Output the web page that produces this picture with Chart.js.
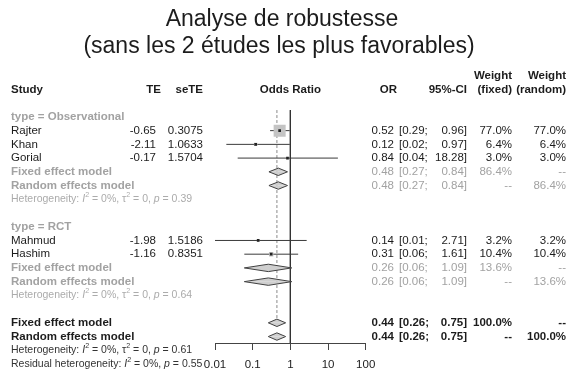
<!DOCTYPE html>
<html><head><meta charset="utf-8">
<script src="https://cdn.jsdelivr.net/npm/chart.js@4/dist/chart.umd.min.js"></script>
<style>html,body{margin:0;padding:0;background:#fff;}canvas{display:block;}</style>
</head><body>
<canvas id="c" width="580" height="377"></canvas>
<script>
// ---------- data ----------
const TITLE_LINES = ['Analyse de robustesse', '(sans les 2 études les plus favorables)'];
const GROUP_LABELS = ['type = Observational', 'type = RCT'];
const STUDIES = ['Rajter', 'Khan', 'Gorial', 'Mahmud', 'Hashim'];
const STUDY_GROUP = [0, 0, 0, 1, 1];
const TE = [-0.65, -2.11, -0.17, -1.98, -1.16];
const SE_TE = [0.3075, 1.0633, 1.5704, 1.5186, 0.8351];
const OR = [0.52, 0.12, 0.84, 0.14, 0.31];
const OR_LO = [0.29, 0.02, 0.04, 0.01, 0.06];
const OR_HI = [0.96, 0.97, 18.28, 2.71, 1.61];
const W_FIXED = [77.0, 6.4, 3.0, 3.2, 10.4];
const W_RANDOM = [77.0, 6.4, 3.0, 3.2, 10.4];
const SUB_FIXED_OR = [0.48, 0.26];
const SUB_FIXED_LO = [0.27, 0.06];
const SUB_FIXED_HI = [0.84, 1.09];
const SUB_FIXED_W = [86.4, 13.6];
const SUB_RANDOM_OR = [0.48, 0.26];
const SUB_RANDOM_LO = [0.27, 0.06];
const SUB_RANDOM_HI = [0.84, 1.09];
const SUB_RANDOM_W = [86.4, 13.6];
const SUB_I2 = ['0%', '0%'];
const SUB_TAU2 = ['0', '0'];
const SUB_P = ['0.39', '0.64'];
const ALL_FIXED = [0.44, 0.26, 0.75];   // OR, lower, upper
const ALL_RANDOM = [0.44, 0.26, 0.75];
const ALL_I2 = '0%', ALL_TAU2 = '0', ALL_P = '0.61';
const RESID_I2 = '0%', RESID_P = '0.55';
const TICKS = [0.01, 0.1, 1, 10, 100];
const TICK_LABELS = ['0.01', '0.1', '1', '10', '100'];

// ---------- row layout ----------
const FONT = '"Liberation Sans", Arial, sans-serif';
const rows = [];
let r = 0;
GROUP_LABELS.forEach((g, gi) => {
  rows.push({kind: 'group', row: r++, gi});
  STUDIES.forEach((s, si) => { if (STUDY_GROUP[si] === gi) rows.push({kind: 'study', row: r++, si}); });
  rows.push({kind: 'subfixed', row: r++, gi});
  rows.push({kind: 'subrandom', row: r++, gi});
  rows.push({kind: 'subhet', row: r++, gi});
  r++;
});
rows.push({kind: 'allfixed', row: r++});
rows.push({kind: 'allrandom', row: r++});
rows.push({kind: 'allhet', row: r++});
rows.push({kind: 'resid', row: r++});

const DARK = '#1c1c1c', GRAY = '#a2a2a2', LGRAY = '#ababab';
const LINE = '#3a3a3a';
const DIAMOND_FILL = '#cfcfcf';
const SQUARE_FILL = '#c4c4c4';
const DH = 0.27;
const wMax = Math.max(...W_FIXED);

const datasets = [];
const studyRows = rows.filter(o => o.kind === 'study');
studyRows.forEach(o => {
  const i = o.si;
  datasets.push({type: 'line', data: [{x: OR_LO[i], y: o.row}, {x: OR_HI[i], y: o.row}],
    borderColor: LINE, borderWidth: 1, pointRadius: 0, fill: false, order: 3});
});
datasets.push({type: 'scatter', data: studyRows.map(o => ({x: OR[o.si], y: o.row})),
  pointStyle: 'rect', backgroundColor: SQUARE_FILL, borderWidth: 0,
  pointRadius: studyRows.map(o => 8.5 * Math.sqrt(W_FIXED[o.si] / wMax)), order: 2});
datasets.push({type: 'scatter', data: studyRows.map(o => ({x: OR[o.si], y: o.row})),
  pointStyle: 'rect', backgroundColor: '#222', borderWidth: 0, pointRadius: 1.9, order: 1});

function diamond(est, lo, hi, row) {
  [-DH, DH].forEach(d => {
    datasets.push({type: 'line', data: [{x: lo, y: row}, {x: est, y: row + d}, {x: hi, y: row}],
      borderColor: '#404040', borderWidth: 1, backgroundColor: DIAMOND_FILL,
      fill: {value: row}, pointRadius: 0, tension: 0, order: 4});
  });
}
rows.forEach(o => {
  if (o.kind === 'subfixed') diamond(SUB_FIXED_OR[o.gi], SUB_FIXED_LO[o.gi], SUB_FIXED_HI[o.gi], o.row);
  if (o.kind === 'subrandom') diamond(SUB_RANDOM_OR[o.gi], SUB_RANDOM_LO[o.gi], SUB_RANDOM_HI[o.gi], o.row);
  if (o.kind === 'allfixed') diamond(ALL_FIXED[0], ALL_FIXED[1], ALL_FIXED[2], o.row);
  if (o.kind === 'allrandom') diamond(ALL_RANDOM[0], ALL_RANDOM[1], ALL_RANDOM[2], o.row);
});
const allFixedRow = rows.find(o => o.kind === 'allfixed').row;
datasets.push({type: 'line', data: [{x: 1, y: -0.5}, {x: 1, y: 30}], borderColor: '#333',
  borderWidth: 1, pointRadius: 0, fill: false, order: 6});
datasets.push({type: 'line', data: [{x: ALL_FIXED[0], y: -0.5}, {x: ALL_FIXED[0], y: allFixedRow - 0.35}],
  borderColor: '#8a8a8a', borderWidth: 1, borderDash: [3, 2], pointRadius: 0, fill: false, order: 5});

// ---------- text plugin ----------
const f2 = v => v.toFixed(2);
const pct = v => v.toFixed(1) + '%';
function txt(ctx, s, x, y, align, color, bold, size) {
  ctx.font = (bold ? 'bold ' : '') + (size || 11.5) + 'px ' + FONT;
  ctx.fillStyle = color; ctx.textAlign = align; ctx.textBaseline = 'middle';
  ctx.fillText(s, x, y);
}
function rich(ctx, x, y, parts, size, color) {
  let cx = x;
  ctx.textAlign = 'left'; ctx.textBaseline = 'middle'; ctx.fillStyle = color;
  for (const [t, st] of parts) {
    let fs = size, dy = 0, style = '';
    if (st === 'i') style = 'italic ';
    if (st === 's') { fs = size * 0.68; dy = -size * 0.38; }
    ctx.font = style + fs + 'px ' + FONT;
    ctx.fillText(t, cx, y + dy);
    cx += ctx.measureText(t).width;
  }
}
const COL = {study: 11, te: 156, teH: 161, se: 203, or: 394, orH: 397, ciL: 399, ciR: 467, wf: 512, wr: 566};
function numCols(ctx, y, est, lo, hi, wf, wr, color, bold) {
  txt(ctx, f2(est), COL.or, y, 'right', color, bold);
  txt(ctx, '[' + f2(lo) + ';', COL.ciL, y, 'left', color, bold);
  txt(ctx, f2(hi) + ']', COL.ciR, y, 'right', color, bold);
  txt(ctx, wf, COL.wf, y, 'right', color, bold);
  txt(ctx, wr, COL.wr, y, 'right', color, bold);
}
const textPlugin = {
  id: 'forestText',
  afterDraw(chart) {
    const ctx = chart.ctx, ys = chart.scales.y, xs = chart.scales.x;
    const Y = v => ys.getPixelForValue(v);
    ctx.save();
    ctx.font = '23px ' + FONT; ctx.fillStyle = DARK; ctx.textAlign = 'center'; ctx.textBaseline = 'alphabetic';
    ctx.fillText(TITLE_LINES[0], 282, 26);
    ctx.fillText(TITLE_LINES[1], 279, 53);
    txt(ctx, 'Study', COL.study, Y(-2), 'left', DARK, true);
    txt(ctx, 'TE', COL.teH, Y(-2), 'right', DARK, true);
    txt(ctx, 'seTE', COL.se, Y(-2), 'right', DARK, true);
    txt(ctx, 'Odds Ratio', (xs.left + xs.right) / 2, Y(-2), 'center', DARK, true);
    txt(ctx, 'OR', COL.orH, Y(-2), 'right', DARK, true);
    txt(ctx, '95%-CI', COL.ciR, Y(-2), 'right', DARK, true);
    txt(ctx, 'Weight', COL.wf, Y(-3), 'right', DARK, true);
    txt(ctx, '(fixed)', COL.wf, Y(-2), 'right', DARK, true);
    txt(ctx, 'Weight', COL.wr, Y(-3), 'right', DARK, true);
    txt(ctx, '(random)', COL.wr, Y(-2), 'right', DARK, true);
    rows.forEach(o => {
      const y = Y(o.row);
      if (o.kind === 'group') txt(ctx, GROUP_LABELS[o.gi], COL.study, y, 'left', GRAY, true);
      if (o.kind === 'study') {
        const i = o.si;
        txt(ctx, STUDIES[i], COL.study, y, 'left', DARK, false);
        txt(ctx, f2(TE[i]), COL.te, y, 'right', DARK, false);
        txt(ctx, SE_TE[i].toFixed(4), COL.se, y, 'right', DARK, false);
        numCols(ctx, y, OR[i], OR_LO[i], OR_HI[i], pct(W_FIXED[i]), pct(W_RANDOM[i]), DARK, false);
      }
      if (o.kind === 'subfixed') {
        txt(ctx, 'Fixed effect model', COL.study, y, 'left', GRAY, true);
        numCols(ctx, y, SUB_FIXED_OR[o.gi], SUB_FIXED_LO[o.gi], SUB_FIXED_HI[o.gi], pct(SUB_FIXED_W[o.gi]), '--', GRAY, false);
      }
      if (o.kind === 'subrandom') {
        txt(ctx, 'Random effects model', COL.study, y, 'left', GRAY, true);
        numCols(ctx, y, SUB_RANDOM_OR[o.gi], SUB_RANDOM_LO[o.gi], SUB_RANDOM_HI[o.gi], '--', pct(SUB_RANDOM_W[o.gi]), GRAY, false);
      }
      if (o.kind === 'subhet') {
        rich(ctx, COL.study, y, [['Heterogeneity: ', 'n'], ['I', 'i'], ['2', 's'], [' = ' + SUB_I2[o.gi] + ', ', 'n'],
          ['\u03C4', 'n'], ['2', 's'], [' = ' + SUB_TAU2[o.gi] + ', ', 'n'], ['p', 'i'], [' = ' + SUB_P[o.gi], 'n']], 10.5, LGRAY);
      }
      if (o.kind === 'allfixed') {
        txt(ctx, 'Fixed effect model', COL.study, y, 'left', DARK, true);
        numCols(ctx, y, ALL_FIXED[0], ALL_FIXED[1], ALL_FIXED[2], pct(100), '--', DARK, true);
      }
      if (o.kind === 'allrandom') {
        txt(ctx, 'Random effects model', COL.study, y, 'left', DARK, true);
        numCols(ctx, y, ALL_RANDOM[0], ALL_RANDOM[1], ALL_RANDOM[2], '--', pct(100), DARK, true);
      }
      if (o.kind === 'allhet') {
        rich(ctx, COL.study, y, [['Heterogeneity: ', 'n'], ['I', 'i'], ['2', 's'], [' = ' + ALL_I2 + ', ', 'n'],
          ['\u03C4', 'n'], ['2', 's'], [' = ' + ALL_TAU2 + ', ', 'n'], ['p', 'i'], [' = ' + ALL_P, 'n']], 10.5, '#333');
      }
      if (o.kind === 'resid') {
        rich(ctx, COL.study, y, [['Residual heterogeneity: ', 'n'], ['I', 'i'], ['2', 's'], [' = ' + RESID_I2 + ', ', 'n'],
          ['p', 'i'], [' = ' + RESID_P, 'n']], 10.5, '#333');
      }
    });
    ctx.restore();
  }
};

new Chart(document.getElementById('c'), {
  type: 'line',
  data: {datasets},
  options: {
    responsive: false, animation: false, events: [],
    layout: {padding: {left: 215, right: 214.3, top: 62, bottom: 0}},
    plugins: {legend: {display: false}, tooltip: {enabled: false}, title: {display: false}},
    scales: {
      x: {type: 'logarithmic', min: TICKS[0], max: TICKS[TICKS.length - 1], position: 'bottom',
        afterBuildTicks: s => { s.ticks = TICKS.map(v => ({value: v})); },
        afterFit: s => { s.height = 34; },
        ticks: {autoSkip: false, maxRotation: 0, padding: 8, color: '#222',
          font: {size: 11.5, family: FONT}, callback: (v, i) => TICK_LABELS[i]},
        grid: {drawOnChartArea: false, drawTicks: true, tickLength: 7, color: '#444', lineWidth: 1},
        border: {display: true, color: '#444', width: 1}},
      y: {type: 'linear', display: false, reverse: true, min: -4, max: 16.47}
    }
  },
  plugins: [textPlugin]
});
</script>
</body></html>
